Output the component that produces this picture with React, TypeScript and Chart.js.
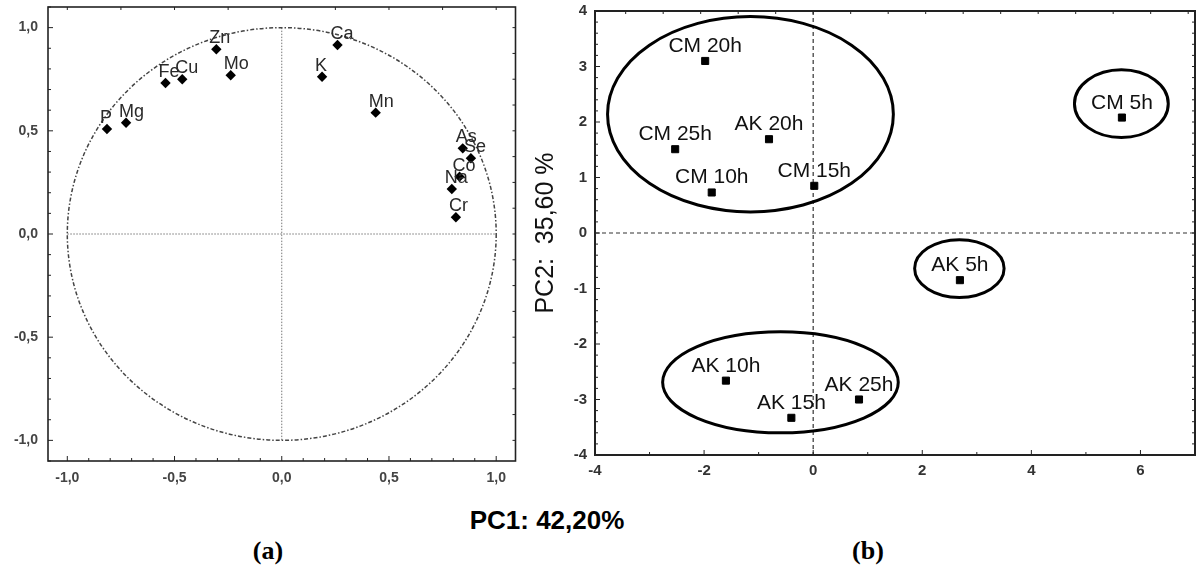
import React, { useEffect, useRef } from 'react';
import { Chart, registerables } from 'chart.js';
Chart.register(...registerables);

// ---------- Panel (a): loadings ----------
const LOADING_LABELS = ['P', 'Mg', 'Fe', 'Cu', 'Zn', 'Mo', 'K', 'Ca', 'Mn', 'As', 'Se', 'Co', 'Na', 'Cr'];
const LOADING_PC1 = [-0.815, -0.726, -0.542, -0.464, -0.305, -0.238, 0.188, 0.26, 0.438, 0.844, 0.882, 0.829, 0.793, 0.812];
const LOADING_PC2 = [0.509, 0.539, 0.732, 0.75, 0.895, 0.769, 0.762, 0.916, 0.588, 0.415, 0.367, 0.278, 0.218, 0.081];
const LOADING_TICKS = [-1, -0.5, 0, 0.5, 1];
const LOADING_MIN = -1.09;
const LOADING_MAX = 1.09;
const LOADING_YMIN = -1.1;
const LOADING_YMAX = 1.1;

// ---------- Panel (b): scores ----------
const SCORE_LABELS = ['CM 20h', 'CM 25h', 'AK 20h', 'CM 10h', 'CM 15h', 'AK 10h', 'AK 15h', 'AK 25h', 'CM 5h', 'AK 5h'];
const SCORE_PC1 = [-1.98, -2.53, -0.81, -1.86, 0.02, -1.6, -0.4, 0.84, 5.66, 2.69];
const SCORE_PC2 = [3.1, 1.51, 1.69, 0.73, 0.85, -2.66, -3.33, -3.0, 2.08, -0.85];
const SCORE_X_TICKS = [-4, -2, 0, 2, 4, 6];
const SCORE_Y_TICKS = [-4, -3, -2, -1, 0, 1, 2, 3, 4];

// group ellipses (data units)
const GROUP_CX = [-1.15, -0.6, 5.65, 2.68];
const GROUP_CY = [2.14, -2.69, 2.33, -0.64];
const GROUP_RX = [2.62, 2.16, 0.86, 0.82];
const GROUP_RY = [1.76, 0.91, 0.61, 0.52];

const SANS = '"Liberation Sans", Arial, sans-serif';

type FrameCfg = {
  width: number;
  color: string;
  bottomStep: number; bottomMajor: number;
  leftStep: number; leftMajor: number;
  topStep: number; rightStep: number;
};

function stepValues(min: number, max: number, step: number) {
  const out: number[] = [];
  for (let k = Math.ceil(min / step - 1e-6); k * step <= max + 1e-6; k++) out.push(k * step);
  return out;
}
function isMajor(v: number, m: number) {
  return Math.abs(v / m - Math.round(v / m)) < 1e-6;
}

function framePlugin(id: string, cfg: FrameCfg) {
  return {
    id,
    afterDraw(chart: any) {
      const { ctx, chartArea: a, scales } = chart;
      const xs = scales.x, ys = scales.y;
      ctx.save();
      ctx.strokeStyle = cfg.color;
      ctx.lineWidth = 1;
      const seg = (x1: number, y1: number, x2: number, y2: number) => {
        ctx.beginPath(); ctx.moveTo(x1, y1); ctx.lineTo(x2, y2); ctx.stroke();
      };
      for (const v of stepValues(xs.min, xs.max, cfg.bottomStep)) {
        const px = xs.getPixelForValue(v);
        seg(px, a.bottom, px, a.bottom - (isMajor(v, cfg.bottomMajor) ? 5 : 3));
      }
      for (const v of stepValues(ys.min, ys.max, cfg.leftStep)) {
        const py = ys.getPixelForValue(v);
        seg(a.left, py, a.left + (isMajor(v, cfg.leftMajor) ? 5 : 3), py);
      }
      for (const v of stepValues(xs.min, xs.max, cfg.topStep)) {
        const px = xs.getPixelForValue(v);
        seg(px, a.top, px, a.top + 3);
      }
      for (const v of stepValues(ys.min, ys.max, cfg.rightStep)) {
        const py = ys.getPixelForValue(v);
        seg(a.right, py, a.right - 3, py);
      }
      ctx.lineWidth = cfg.width;
      ctx.strokeRect(a.left, a.top, a.right - a.left, a.bottom - a.top);
      ctx.restore();
    },
  };
}

const loadingBackground = {
  id: 'loadingBackground',
  beforeDatasetsDraw(chart: any) {
    const { ctx, scales } = chart;
    const xs = scales.x, ys = scales.y;
    const cx = xs.getPixelForValue(0), cy = ys.getPixelForValue(0);
    const rx = xs.getPixelForValue(1) - cx, ry = cy - ys.getPixelForValue(1);
    ctx.save();
    ctx.strokeStyle = '#777';
    ctx.lineWidth = 1;
    ctx.setLineDash([1.5, 1.5]);
    ctx.beginPath();
    ctx.moveTo(cx, cy - ry); ctx.lineTo(cx, cy + ry);
    ctx.moveTo(cx - rx, cy); ctx.lineTo(cx + rx, cy);
    ctx.stroke();
    ctx.strokeStyle = '#444';
    ctx.lineWidth = 1.5;
    ctx.setLineDash([4, 2, 1.5, 2]);
    ctx.beginPath();
    ctx.ellipse(cx, cy, rx, ry, 0, 0, Math.PI * 2);
    ctx.stroke();
    ctx.restore();
  },
};

const scoreBackground = {
  id: 'scoreBackground',
  beforeDatasetsDraw(chart: any) {
    const { ctx, scales, chartArea: a } = chart;
    const xs = scales.x, ys = scales.y;
    const x0 = xs.getPixelForValue(0), y0 = ys.getPixelForValue(0);
    ctx.save();
    ctx.strokeStyle = '#333';
    ctx.lineWidth = 1.2;
    ctx.setLineDash([4, 3]);
    ctx.beginPath();
    ctx.moveTo(x0, a.top); ctx.lineTo(x0, a.bottom);
    ctx.moveTo(a.left, y0); ctx.lineTo(a.right, y0);
    ctx.stroke();
    ctx.setLineDash([]);
    ctx.strokeStyle = '#000';
    ctx.lineWidth = 3;
    for (let i = 0; i < GROUP_CX.length; i++) {
      const cx = xs.getPixelForValue(GROUP_CX[i]);
      const cy = ys.getPixelForValue(GROUP_CY[i]);
      const rx = Math.abs(xs.getPixelForValue(GROUP_CX[i] + GROUP_RX[i]) - cx);
      const ry = Math.abs(ys.getPixelForValue(GROUP_CY[i] + GROUP_RY[i]) - cy);
      ctx.beginPath();
      ctx.ellipse(cx, cy, rx, ry, 0, 0, Math.PI * 2);
      ctx.stroke();
    }
    ctx.restore();
  },
};

function labelPlugin(id: string, labels: string[], font: string, color: string, align: CanvasTextAlign, dx: number, dy: number) {
  return {
    id,
    afterDatasetsDraw(chart: any) {
      const { ctx } = chart;
      const meta = chart.getDatasetMeta(0);
      ctx.save();
      ctx.font = font;
      ctx.fillStyle = color;
      ctx.textAlign = align;
      ctx.textBaseline = 'alphabetic';
      meta.data.forEach((el: any, i: number) => {
        ctx.fillText(labels[i], el.x + dx, el.y + dy);
      });
      ctx.restore();
    },
  };
}

const fmtComma = (v: number) => v.toFixed(1).replace('.', ',');

const fitX = (h: number) => (s: any) => { s.height = h; s.paddingLeft = 0; s.paddingRight = 0; };
const fitY = (w: number) => (s: any) => { s.width = w; s.paddingTop = 0; s.paddingBottom = 0; };

function LoadingChart() {
  const ref = useRef<HTMLCanvasElement>(null);
  useEffect(() => {
    const chart = new Chart(ref.current!, {
      type: 'scatter',
      data: {
        datasets: [{
          data: LOADING_PC1.map((x, i) => ({ x, y: LOADING_PC2[i] })),
          pointStyle: 'rectRot',
          pointRadius: 5.2,
          backgroundColor: '#000',
          borderColor: '#000',
          borderWidth: 0,
        }],
      },
      options: {
        animation: false,
        responsive: false,
        maintainAspectRatio: false,
        layout: { padding: { top: 7, right: 14.5, left: 0, bottom: 0 } },
        plugins: { legend: { display: false }, tooltip: { enabled: false } },
        scales: {
          x: {
            type: 'linear', min: LOADING_MIN, max: LOADING_MAX,
            afterBuildTicks: (s: any) => { s.ticks = LOADING_TICKS.map((value) => ({ value })); },
            afterFit: fitX(34),
            grid: { display: false, drawTicks: false, tickLength: 0 },
            border: { display: false },
            ticks: { callback: (v: any) => fmtComma(Number(v)), font: { family: SANS, size: 14, weight: 'bold' }, color: '#444', padding: 9, maxRotation: 0, autoSkip: false },
          },
          y: {
            type: 'linear', min: LOADING_YMIN, max: LOADING_YMAX,
            afterBuildTicks: (s: any) => { s.ticks = LOADING_TICKS.map((value) => ({ value })); },
            afterFit: fitY(48),
            grid: { display: false, drawTicks: false, tickLength: 0 },
            border: { display: false },
            ticks: { callback: (v: any) => fmtComma(Number(v)), font: { family: SANS, size: 14, weight: 'bold' }, color: '#444', padding: 10, autoSkip: false },
          },
        },
      },
      plugins: [
        loadingBackground,
        labelPlugin('loadingLabels', LOADING_LABELS, `18px ${SANS}`, '#2a2a2a', 'left', -7, -6),
        framePlugin('loadingFrame', { width: 1.6, color: '#222', bottomStep: 0.1, bottomMajor: 0.5, leftStep: 0.1, leftMajor: 0.5, topStep: 0.25, rightStep: 0.125 }),
      ],
    } as any);
    return () => chart.destroy();
  }, []);
  return <canvas ref={ref} width={530} height={495} style={{ position: 'absolute', left: 0, top: 0, width: 530, height: 495 }} />;
}

function ScoreChart() {
  const ref = useRef<HTMLCanvasElement>(null);
  useEffect(() => {
    const chart = new Chart(ref.current!, {
      type: 'scatter',
      data: {
        datasets: [{
          data: SCORE_PC1.map((x, i) => ({ x, y: SCORE_PC2[i] })),
          pointStyle: 'rect',
          pointRadius: 5,
          backgroundColor: '#000',
          borderColor: '#000',
          borderWidth: 1,
        }],
      },
      options: {
        animation: false,
        responsive: false,
        maintainAspectRatio: false,
        layout: { padding: { top: 11, right: 4.5, left: 0, bottom: 0 } },
        plugins: { legend: { display: false }, tooltip: { enabled: false } },
        scales: {
          x: {
            type: 'linear', min: -4, max: 7,
            afterBuildTicks: (s: any) => { s.ticks = SCORE_X_TICKS.map((value) => ({ value })); },
            afterFit: fitX(40),
            grid: { display: false, drawTicks: false, tickLength: 0 },
            border: { display: false },
            ticks: { font: { family: SANS, size: 15, weight: 'bold' }, color: '#333', padding: 7, maxRotation: 0, autoSkip: false },
          },
          y: {
            type: 'linear', min: -4, max: 4,
            afterBuildTicks: (s: any) => { s.ticks = SCORE_Y_TICKS.map((value) => ({ value })); },
            afterFit: fitY(75),
            grid: { display: false, drawTicks: false, tickLength: 0 },
            border: { display: false },
            ticks: { font: { family: SANS, size: 15, weight: 'bold' }, color: '#333', padding: 8, autoSkip: false },
            title: { display: true, text: 'PC2:  35,60 %', font: { family: SANS, size: 25 }, color: '#111', padding: { top: 11, bottom: 0 } },
          },
        },
      },
      plugins: [
        scoreBackground,
        labelPlugin('scoreLabels', SCORE_LABELS, `21px ${SANS}`, '#111', 'center', 0, -9),
        framePlugin('scoreFrame', { width: 2, color: '#222', bottomStep: 1, bottomMajor: 2, leftStep: 0.2, leftMajor: 1, topStep: 11 / 16, rightStep: 0.2 }),
      ],
    } as any);
    return () => chart.destroy();
  }, []);
  return <canvas ref={ref} width={681} height={495} style={{ position: 'absolute', left: 520, top: 0, width: 681, height: 495 }} />;
}

export default function App() {
  return (
    <div style={{ position: 'absolute', left: 0, top: 0, width: 1201, height: 570, background: '#fff', overflow: 'hidden' }}>
      <LoadingChart />
      <ScoreChart />
      <div style={{ position: 'absolute', left: 347, width: 400, top: 505, textAlign: 'center', font: `bold 26px ${SANS}`, color: '#000', lineHeight: '30px' }}>PC1: 42,20%</div>
      <div style={{ position: 'absolute', left: 218, width: 100, top: 536, textAlign: 'center', font: 'bold 26px "Liberation Serif", "Times New Roman", serif', color: '#000', lineHeight: '30px' }}>(a)</div>
      <div style={{ position: 'absolute', left: 818, width: 100, top: 536, textAlign: 'center', font: 'bold 26px "Liberation Serif", "Times New Roman", serif', color: '#000', lineHeight: '30px' }}>(b)</div>
    </div>
  );
}
